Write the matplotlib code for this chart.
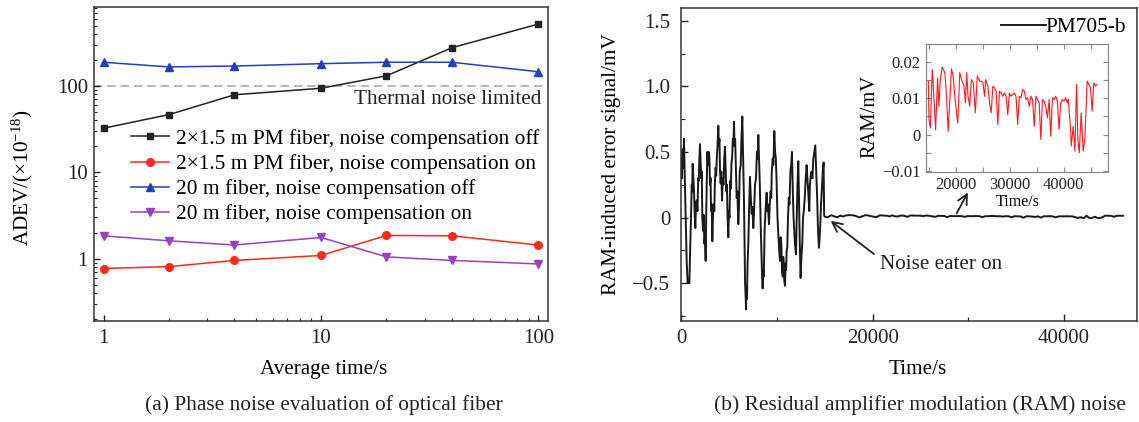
import matplotlib
matplotlib.use('Agg')
import matplotlib.pyplot as plt
from matplotlib.ticker import FixedLocator, FixedFormatter, LogLocator, NullFormatter

plt.rcParams['font.family'] = ['Liberation Serif', 'DejaVu Serif']
plt.rcParams['mathtext.fontset'] = 'custom'
plt.rcParams['mathtext.rm'] = 'Liberation Serif'
plt.rcParams['mathtext.it'] = 'Liberation Serif:italic'

# ---------------- data: panel (a) ----------------
avg_time = [1, 2, 4, 10, 20, 40, 100]
pm_off = [32.4, 46.6, 79, 94, 131, 277, 521]
pm_on = [0.77, 0.81, 0.955, 1.09, 1.86, 1.84, 1.44]
f20_off = [188, 166, 170, 181, 188, 188, 146]
f20_on = [1.84, 1.61, 1.44, 1.76, 1.05, 0.955, 0.87]
thermal_limit = 100
series_labels = ["2×1.5 m PM fiber, noise compensation off",
                 "2×1.5 m PM fiber, noise compensation on",
                 "20 m fiber, noise compensation off",
                 "20 m fiber, noise compensation on"]

# ---------------- data: panel (b) ----------------
# before noise eater (s, mV)
t_before = [0, 60, 130, 200, 272, 340, 420, 480, 551, 600,
            650, 740, 829, 900, 960, 1020, 1080, 1130, 1178, 1250,
            1320, 1380, 1457, 1530, 1600, 1680, 1760, 1820, 1880, 1945,
            2010, 2080, 2130, 2188, 2260, 2320, 2400, 2470, 2537, 2600,
            2660, 2711, 2800, 2860, 2920, 2990, 3050, 3100, 3170, 3234,
            3300, 3380, 3440, 3500, 3580, 3640, 3700, 3780, 3861, 3920,
            3980, 4040, 4105, 4170, 4250, 4330, 4400, 4480, 4558, 4620,
            4700, 4760, 4830, 4907, 4970, 5030, 5100, 5170, 5240, 5300,
            5380, 5440, 5499, 5560, 5620, 5700, 5780, 5850, 5952, 6030,
            6100, 6200, 6280, 6370, 6440, 6545, 6600, 6660, 6720, 6754,
            6800, 6860, 6920, 7000, 7090, 7172, 7260, 7350, 7430, 7520,
            7600, 7700, 7800, 7900, 7980, 8043, 8120, 8200, 8290, 8380,
            8440, 8497, 8560, 8620, 8700, 8800, 8915, 8990, 9060, 9159,
            9240, 9330, 9400, 9450, 9550, 9620, 9716, 9800, 9880, 9961,
            10050, 10150, 10230, 10309, 10380, 10450, 10520, 10600, 10650, 10700,
            10760, 10832, 10900, 10950, 11010, 11075, 11150, 11230, 11300, 11400,
            11480, 11563, 11650, 11730, 11800, 11880, 11981, 12060, 12140, 12225,
            12300, 12380, 12469, 12550, 12640, 12720, 12800, 12900, 13000, 13097,
            13180, 13260, 13375, 13440, 13500, 13600, 13700, 13800, 13900, 14002,
            14100, 14200, 14290, 14386, 14460, 14530, 14600, 14680, 14780, 14874]
v_before = [0.45, 0.30, 0.52, 0.38, 0.60, 0.35, 0.10, -0.12, -0.33, -0.42,
            -0.50, -0.48, -0.50, -0.30, -0.10, 0.05, 0.25, 0.20, 0.41, 0.30,
            0.20, 0.05, -0.08, 0.10, 0.13, 0.05, 0.30, 0.28, 0.45, 0.56,
            0.42, 0.30, 0.35, 0.00, -0.10, 0.02, -0.20, -0.15, -0.33, 0.05,
            0.30, 0.50, 0.40, 0.50, 0.47, 0.25, 0.30, 0.05, 0.10, -0.18,
            0.00, 0.10, 0.05, 0.26, 0.38, 0.32, 0.45, 0.55, 0.70, 0.55,
            0.60, 0.35, 0.26, 0.35, 0.13, 0.30, 0.25, 0.45, 0.54, 0.40,
            0.20, 0.25, 0.00, -0.15, 0.05, 0.00, 0.28, 0.22, 0.42, 0.45,
            0.60, 0.55, 0.73, 0.55, 0.60, 0.38, 0.15, 0.20, -0.05, 0.10,
            0.35, 0.40, 0.60, 0.77, 0.50, 0.13, -0.20, -0.50, -0.60, -0.70,
            -0.55, -0.62, -0.35, -0.20, 0.10, 0.31, 0.15, 0.03, 0.08, -0.08,
            0.05, 0.25, 0.30, 0.50, 0.45, 0.63, 0.45, 0.26, -0.05, -0.30,
            -0.45, -0.54, -0.40, -0.45, -0.10, 0.05, 0.19, 0.05, 0.10, -0.05,
            0.10, 0.20, 0.15, 0.35, 0.45, 0.40, 0.66, 0.50, 0.45, 0.26,
            0.00, -0.15, -0.25, -0.33, -0.15, -0.20, -0.40, -0.45, -0.30, -0.35,
            -0.48, -0.52, -0.35, -0.40, -0.25, -0.23, 0.00, 0.15, 0.10, 0.35,
            0.40, 0.50, 0.20, 0.00, -0.10, -0.20, -0.28, 0.00, 0.25, 0.43,
            0.15, -0.20, -0.46, -0.30, -0.20, 0.00, 0.05, 0.15, 0.30, 0.40,
            0.30, 0.20, 0.05, 0.25, 0.30, 0.35, 0.30, 0.45, 0.50, 0.55,
            0.35, 0.15, -0.10, -0.23, -0.15, -0.05, 0.10, 0.20, 0.35, 0.42]
# after noise eater on (s, mV) -- also shown in inset
t_after = [14930, 15053, 15298, 15665, 15970, 16278, 16646, 16891, 17136, 17504,
           17994, 18300, 18606, 19219, 19525, 19832, 20383, 20751, 21180, 21547,
           21792, 22038, 22283, 22589, 22895, 23263, 23631, 23998, 24427, 24733,
           25040, 25346, 25530, 25959, 26265, 26572, 26878, 27184, 27491, 27797,
           28103, 28410, 28716, 29022, 29329, 29635, 29941, 30248, 30554, 30860,
           31167, 31473, 31779, 32086, 32392, 32699, 33005, 33311, 33618, 33924,
           34230, 34537, 34843, 35149, 35456, 35762, 36068, 36375, 36681, 36987,
           37294, 37600, 37906, 38213, 38519, 38826, 39132, 39438, 39745, 40051,
           40357, 40664, 40848, 41276, 41399, 41766, 42073, 42379, 42624, 42869,
           43237, 43605, 43911, 44340, 44646, 44953, 45259, 45565, 45872, 46178]
v_after = [0.0148, 0.0042, 0.0018, 0.0180, 0.0100, 0.0014, 0.0157, 0.0078, 0.0152, 0.0187,
           0.0171, 0.0106, 0.0009, 0.0182, 0.0162, 0.0106, 0.0032, 0.0171, 0.0148, 0.0134,
           0.0088, 0.0171, 0.0106, 0.0078, 0.0152, 0.0143, 0.0060, 0.0162, 0.0148, 0.0148,
           0.0143, 0.0106, 0.0152, 0.0134, 0.0088, 0.0060, 0.0134, 0.0129, 0.0120, 0.0028,
           0.0120, 0.0115, 0.0106, 0.0115, 0.0106, 0.0055, 0.0115, 0.0106, 0.0111, 0.0115,
           0.0106, 0.0028, 0.0106, 0.0102, 0.0125, 0.0120, 0.0097, 0.0102, 0.0078, 0.0106,
           0.0097, 0.0023, 0.0106, 0.0097, 0.0088, -0.0014, 0.0097, 0.0092, 0.0078, 0.0046,
           0.0097, -0.0005, 0.0102, 0.0097, 0.0106, 0.0092, 0.0014, 0.0088, 0.0097, 0.0092,
           0.0102, 0.0088, 0.0097, 0.0014, -0.0032, 0.0023, -0.0046, 0.0139, -0.0014, -0.0051,
           0.0060, -0.0046, -0.0014, 0.0148, 0.0139, 0.0129, 0.0065, 0.0143, 0.0134, 0.0139]

W, H = 1139, 422
fig = plt.figure(figsize=(W / 100, H / 100), dpi=100)

def rect(x0, y0, x1, y1):
    return [x0 / W, 1 - y1 / H, (x1 - x0) / W, (y1 - y0) / H]

spine_c = '#333333'
TICK_FS = 15
LAB_FS = 15.2
LEG_FS = 15.4
CAP_FS = 15.4

# ================= panel (a) =================
ax1 = fig.add_axes(rect(93.6, 7, 547.5, 321))
ax1.set_xscale('log')
ax1.set_yscale('log')
ax1.axhline(thermal_limit, ls=(0, (5, 3)), color='#aaaaaa', lw=1.2, zorder=1)
ax1.plot(avg_time, pm_off, '-s', color='#222222', mfc='#222222', ms=5, lw=1.1, label=series_labels[0])
ax1.plot(avg_time, pm_on, '-o', color='#ff2a1a', ms=5.5, lw=1.1, label=series_labels[1])
ax1.plot(avg_time, f20_off, '-^', color='#2440b8', ms=6, lw=1.1, label=series_labels[2])
ax1.plot(avg_time, f20_on, '-v', color='#9a3fc0', ms=6, lw=1.1, label=series_labels[3])
ax1.set_xlim(0.9, 110)
ax1.set_ylim(0.19, 820)
ax1.xaxis.set_major_locator(FixedLocator([1, 10, 100]))
ax1.xaxis.set_major_formatter(FixedFormatter(['1', '10', '100']))
ax1.xaxis.set_minor_locator(LogLocator(base=10, subs=range(2, 10)))
ax1.xaxis.set_minor_formatter(NullFormatter())
ax1.yaxis.set_major_locator(FixedLocator([1, 10, 100]))
ax1.yaxis.set_major_formatter(FixedFormatter(['1', '10', '100']))
ax1.yaxis.set_minor_locator(LogLocator(base=10, subs=range(2, 10)))
ax1.yaxis.set_minor_formatter(NullFormatter())
ax1.tick_params(which='both', direction='in', top=False, right=False, labelsize=TICK_FS, colors='#222222')
ax1.tick_params(which='major', length=4, width=1)
ax1.tick_params(which='minor', length=2.2, width=0.8)
ax1.tick_params(axis='x', pad=6)
ax1.tick_params(axis='y', pad=4)
for s in ax1.spines.values():
    s.set_color(spine_c); s.set_linewidth(1.1)
ax1.set_xlabel('Average time/s', fontsize=LAB_FS, va='center')
ax1.xaxis.set_label_coords(0.506, -0.156)
ax1.set_ylabel(r'ADEV/(×10$^{-18}$)', fontsize=LAB_FS, va='center')
ax1.yaxis.set_label_coords(-0.156, 0.455)
ax1.text(0.986, 0.704, 'Thermal noise limited', transform=ax1.transAxes,
         ha='right', va='center', fontsize=LAB_FS, color='#222222')
ax1.legend(loc='center', bbox_to_anchor=(0.533, 0.46), frameon=False, fontsize=LEG_FS,
           handlelength=1.77, handletextpad=0.33, labelspacing=0.24,
           borderaxespad=0, borderpad=0)
fig.text(324 / W, 1 - 405 / H, '(a) Phase noise evaluation of optical fiber',
         ha='center', va='center', fontsize=CAP_FS, color='#222222')

# ================= panel (b) =================
ax2 = fig.add_axes(rect(681.4, 8.3, 1137, 320.7))
ax2.plot(t_before + t_after, v_before + v_after, color='#1a1a1a', lw=1.4, label='PM705-b')
ax2.set_xlim(0, 47650)
ax2.set_ylim(-0.786, 1.595)
ax2.xaxis.set_major_locator(FixedLocator([0, 20000, 40000]))
ax2.xaxis.set_major_formatter(FixedFormatter(['0', '20000', '40000']))
ax2.xaxis.set_minor_locator(FixedLocator([10000, 30000]))
ax2.yaxis.set_major_locator(FixedLocator([-0.5, 0, 0.5, 1.0, 1.5]))
ax2.yaxis.set_major_formatter(FixedFormatter(['\u22120.5', '0', '0.5', '1.0', '1.5']))
ax2.yaxis.set_minor_locator(FixedLocator([-0.75, -0.25, 0.25, 0.75, 1.25]))
ax2.tick_params(which='both', direction='in', top=False, right=False, labelsize=TICK_FS, colors='#222222')
ax2.tick_params(which='major', length=5, width=1)
ax2.tick_params(which='minor', length=3, width=0.8)
ax2.tick_params(axis='x', pad=6)
ax2.tick_params(axis='y', pad=8)
for s in ax2.spines.values():
    s.set_color(spine_c); s.set_linewidth(1.1)
ax2.set_xlabel('Time/s', fontsize=LAB_FS, va='center')
ax2.xaxis.set_label_coords(0.519, -0.155)
ax2.set_ylabel('RAM-induced error signal/mV', fontsize=LAB_FS, va='center')
ax2.yaxis.set_label_coords(-0.153, 0.5)
ax2.legend(loc='center', bbox_to_anchor=(0.839, 0.940), frameon=False, fontsize=LEG_FS,
           handlelength=2.1, handletextpad=0.0, borderaxespad=0, borderpad=0)

arrow_kw = dict(arrowstyle='->,head_length=0.5,head_width=0.25', color='#222222', lw=1.3,
                mutation_scale=14, shrinkA=0, shrinkB=0)
ax2.annotate('', xy=(15610, -0.025), xytext=(20136, -0.278), arrowprops=arrow_kw)
ax2.text(20816, -0.357, 'Noise eater on', ha='left', va='center', fontsize=LAB_FS, color='#222222')
ax2.annotate('', xy=(29965, 0.191), xytext=(28780, 0.031), arrowprops=arrow_kw)
fig.text(919.5 / W, 1 - 405 / H, '(b) Residual amplifier modulation (RAM) noise',
         ha='center', va='center', fontsize=CAP_FS, color='#222222')

# ================= inset =================
ax3 = fig.add_axes(rect(926, 44.3, 1108, 171.7))
ax3.plot(t_after, v_after, color='#ff1a1a', lw=0.8)
ax3.set_xlim(14500, 48200)
ax3.set_ylim(-0.0103, 0.025)
ax3.xaxis.set_major_locator(FixedLocator([20000, 30000, 40000]))
ax3.xaxis.set_major_formatter(FixedFormatter(['20000', '30000', '40000']))
ax3.xaxis.set_minor_locator(FixedLocator([15000, 25000, 35000, 45000]))
ax3.yaxis.set_major_locator(FixedLocator([-0.01, 0, 0.01, 0.02]))
ax3.yaxis.set_major_formatter(FixedFormatter(['\u22120.01', '0', '0.01', '0.02']))
ax3.yaxis.set_minor_locator(FixedLocator([-0.005, 0.005, 0.015]))
ax3.tick_params(which='both', direction='in', top=True, right=True, labelsize=12,
                color='#888888', labelcolor='#222222')
ax3.tick_params(which='major', length=3.5, width=0.8)
ax3.tick_params(which='minor', length=3.5, width=0.8)
ax3.tick_params(axis='x', pad=4)
ax3.tick_params(axis='y', pad=4)
for s in ax3.spines.values():
    s.set_color('#888888'); s.set_linewidth(0.9)
ax3.set_xlabel('Time/s', fontsize=11.5, va='center')
ax3.xaxis.set_label_coords(0.505, -0.238)
ax3.set_ylabel('RAM/mV', fontsize=14.8, va='center')
ax3.yaxis.set_label_coords(-0.31, 0.437)

fig.savefig('out.png', dpi=100)
